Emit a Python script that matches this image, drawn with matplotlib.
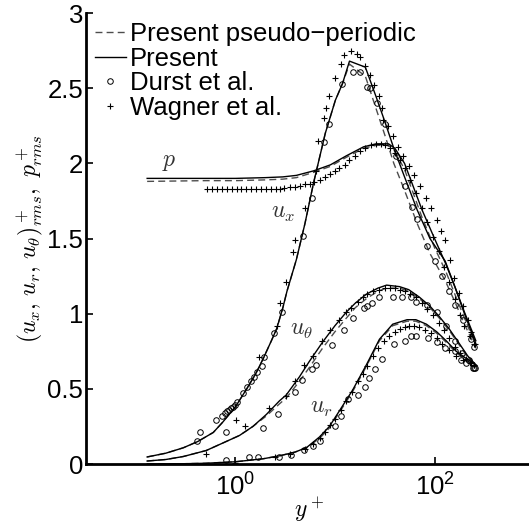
import numpy as np
import matplotlib
matplotlib.use("Agg")
import matplotlib.pyplot as plt

plt.rcParams['font.family'] = ['Liberation Sans', 'DejaVu Sans']
plt.rcParams['mathtext.fontset'] = 'cm'

# --- Present (solid) ---
ux_y = [0.13, 0.2, 0.3, 0.42, 0.6, 0.75, 1.0, 1.3, 1.6, 1.9, 2.3, 2.6, 3.0, 3.3, 4.1, 5.0, 6.1,
        8.0, 10.1, 11.9, 14.0, 20.2, 26, 32, 39, 50, 67, 90, 128, 160, 200, 260]
ux_v = [0.047, 0.072, 0.108, 0.15, 0.21, 0.28, 0.38, 0.50, 0.60, 0.70, 0.82, 0.90, 1.04, 1.15, 1.36,
        1.60, 1.87, 2.20, 2.42, 2.53, 2.68, 2.64, 2.44, 2.27, 2.10, 1.91, 1.69, 1.50, 1.35, 1.18, 1.00, 0.80]
ux_pp_v = [0.047, 0.072, 0.108, 0.15, 0.21, 0.28, 0.38, 0.50, 0.60, 0.70, 0.82, 0.90, 1.04, 1.15, 1.36,
           1.60, 1.87, 2.20, 2.42, 2.53, 2.66, 2.58, 2.36, 2.18, 2.00, 1.82, 1.60, 1.40, 1.22, 1.08, 0.93, 0.77]

p_y = [0.13, 0.5, 1.0, 2.0, 3.0, 4.1, 6.1, 9.0, 13, 19.4, 26, 34.5, 40, 50, 75, 100, 130, 160, 200, 260]
p_v = [1.90, 1.90, 1.90, 1.905, 1.91, 1.92, 1.95, 1.99, 2.05, 2.11, 2.13, 2.13, 2.10, 2.00, 1.69,
       1.50, 1.33, 1.18, 1.01, 0.82]
p_pp_v = [1.88, 1.885, 1.885, 1.89, 1.895, 1.905, 1.94, 1.98, 2.04, 2.10, 2.12, 2.12, 2.08, 1.96, 1.64,
          1.44, 1.28, 1.13, 0.97, 0.79]

ut_y = [0.13, 0.2, 0.3, 0.51, 0.75, 1.1, 1.5, 2.05, 2.77, 3.25, 4.4, 5.5, 7.5, 10, 13, 16, 20.7, 27,
        33, 44.5, 55, 70.5, 90, 112, 140, 178, 215, 260]
ut_v = [0.02, 0.03, 0.05, 0.09, 0.14, 0.19, 0.25, 0.33, 0.42, 0.46, 0.58, 0.68, 0.81, 0.92, 1.01, 1.07,
        1.13, 1.17, 1.19, 1.18, 1.16, 1.11, 1.05, 0.98, 0.90, 0.80, 0.72, 0.66]
ut_pp_v = [0.02, 0.03, 0.05, 0.09, 0.14, 0.19, 0.25, 0.32, 0.40, 0.44, 0.55, 0.64, 0.77, 0.88, 0.97, 1.04,
           1.10, 1.15, 1.17, 1.17, 1.15, 1.10, 1.04, 0.97, 0.89, 0.79, 0.71, 0.65]

ur_y = [0.13, 0.3, 0.5, 1.0, 1.9, 2.8, 4.0, 5.2, 7.0, 8.8, 11, 15, 20.7, 28, 38, 53, 65, 83, 105,
        131, 165, 210, 260]
ur_v = [0.0005, 0.002, 0.005, 0.015, 0.035, 0.055, 0.08, 0.11, 0.18, 0.25, 0.35, 0.49, 0.66, 0.83,
        0.93, 0.96, 0.96, 0.93, 0.88, 0.82, 0.75, 0.70, 0.66]
ur_pp_v = [0.0005, 0.002, 0.005, 0.015, 0.035, 0.055, 0.08, 0.11, 0.17, 0.24, 0.34, 0.48, 0.65, 0.82,
           0.92, 0.95, 0.95, 0.92, 0.87, 0.81, 0.74, 0.69, 0.65]

# --- Durst et al. (circles) ---
d_ux_y = [0.41, 0.44, 0.64, 0.74, 0.78, 0.82, 0.86, 0.9, 0.95, 1.0, 1.05, 1.18, 1.32, 1.45, 1.55, 1.66,
          1.83, 1.96, 2.47, 2.97, 4.8, 5.95, 7.8, 8.8, 11.9, 15.3, 18, 21.2, 22.7, 26.7, 32, 41.5,
          50, 60, 67, 85, 100, 120, 140, 162, 195, 235, 250]
d_ux_v = [0.15, 0.21, 0.29, 0.32, 0.34, 0.35, 0.36, 0.37, 0.38, 0.39, 0.41, 0.47, 0.51, 0.55, 0.58, 0.61,
          0.65, 0.71, 0.87, 1.01, 1.52, 1.77, 2.14, 2.26, 2.53, 2.61, 2.61, 2.51, 2.50, 2.40, 2.26, 2.05,
          1.85, 1.71, 1.63, 1.45, 1.35, 1.25, 1.15, 1.06, 0.96, 0.83, 0.78]
d_ut_y = [0.81, 1.91, 2.7, 4.0, 4.7, 5.9, 6.5, 9.4, 12.4, 15.3, 19.8, 21, 23.8, 28, 38, 47.5, 58.5,
          65.5, 85, 107, 130, 160, 190, 220, 250]
d_ut_v = [0.21, 0.24, 0.33, 0.48, 0.56, 0.63, 0.66, 0.79, 0.89, 0.97, 1.04, 1.05, 1.07, 1.11, 1.11,
          1.11, 1.11, 1.08, 1.06, 1.01, 0.92, 0.82, 0.74, 0.69, 0.64]
d_ur_y = [0.81, 1.38, 1.7, 2.77, 3.6, 4.9, 6.0, 7.1, 10.1, 11.5, 13.6, 17.2, 20.2, 22.2, 25.5, 29.4,
          38.8, 51, 58.5, 65.5, 87, 105, 128, 162, 186, 208, 245, 255]
d_ur_v = [0.03, 0.05, 0.05, 0.05, 0.06, 0.09, 0.12, 0.15, 0.25, 0.32, 0.43, 0.46, 0.51, 0.57, 0.63, 0.70,
          0.80, 0.82, 0.85, 0.85, 0.84, 0.81, 0.77, 0.75, 0.69, 0.67, 0.64, 0.64]

# --- Wagner et al. (plus) ---
w_p_y = [0.52, 0.58, 0.65, 0.73, 0.82, 0.92, 1.03, 1.15, 1.29, 1.45, 1.62, 1.82, 2.04, 2.28, 2.55,
         2.8, 3.1, 3.5, 4.0, 4.5, 5.0, 5.6, 6.2, 7, 8, 9, 10, 11, 12.5, 14, 16, 18, 20, 23, 26, 29,
         32, 36, 40, 45, 50, 57, 65, 75, 85, 97, 110, 125, 140, 160, 180, 200, 225, 250]
w_p_v = [1.83, 1.83, 1.83, 1.83, 1.83, 1.83, 1.83, 1.83, 1.83, 1.83, 1.83, 1.83, 1.83, 1.83, 1.83,
         1.83, 1.835, 1.84, 1.845, 1.85, 1.86, 1.865, 1.875, 1.89, 1.91, 1.93, 1.95, 1.97, 1.99, 2.02,
         2.05, 2.08, 2.10, 2.12, 2.13, 2.13, 2.12, 2.10, 2.07, 2.02, 1.97, 1.89, 1.80, 1.70, 1.61, 1.51,
         1.42, 1.31, 1.21, 1.10, 0.99, 0.92, 0.85, 0.80]
w_ux_y = [1.74, 2.6, 2.8, 3.25, 3.8, 4.0, 5.0, 6.5, 6.7, 7.8, 8.2, 8.8, 9.9, 11.4, 12.2, 14.6, 16.8,
          18, 20.2, 22.7, 24.5, 27.4, 29.4, 30.7, 34, 38, 43, 48, 55, 62, 72, 82, 93, 105, 117, 128,
          142, 158, 175, 195, 215, 235, 255]
w_ux_v = [0.71, 0.92, 1.07, 1.21, 1.41, 1.49, 1.70, 1.95, 2.15, 2.30, 2.37, 2.45, 2.57, 2.66, 2.72,
          2.75, 2.73, 2.71, 2.65, 2.59, 2.52, 2.45, 2.37, 2.29, 2.25, 2.18, 2.11, 2.05, 1.98, 1.92, 1.85,
          1.77, 1.70, 1.62, 1.55, 1.49, 1.36, 1.24, 1.14, 1.05, 0.96, 0.88, 0.80]
w_ut_y = [0.51, 1.02, 1.26, 2.2, 3.25, 4.0, 4.9, 6, 7.5, 9, 11, 13, 14.6, 17, 19, 21, 24, 28, 32, 36,
          40, 45, 50, 57, 65, 75, 85, 97, 110, 125, 140, 160, 180, 205, 230, 250]
w_ut_v = [0.07, 0.29, 0.25, 0.37, 0.45, 0.55, 0.66, 0.72, 0.82, 0.89, 0.96, 1.01, 1.04, 1.08, 1.11,
          1.13, 1.15, 1.16, 1.17, 1.17, 1.17, 1.16, 1.15, 1.13, 1.11, 1.07, 1.03, 0.99, 0.94, 0.89, 0.84,
          0.78, 0.74, 0.70, 0.67, 0.66]
w_ur_y = [1.0, 2.5, 3.5, 5, 6, 7, 8, 9, 10, 11.5, 13, 15, 17, 19, 21, 24, 27, 31, 35, 40, 45, 50,
          56, 62, 70, 80, 92, 105, 120, 140, 165, 195, 225, 250]
w_ur_v = [0.01, 0.05, 0.07, 0.10, 0.13, 0.17, 0.21, 0.26, 0.30, 0.36, 0.42, 0.48, 0.55, 0.60, 0.65,
          0.72, 0.77, 0.82, 0.85, 0.88, 0.90, 0.91, 0.92, 0.92, 0.91, 0.89, 0.87, 0.84, 0.80, 0.76,
          0.72, 0.69, 0.67, 0.66]

fig = plt.figure(figsize=(5.29, 5.27), dpi=100)
ax = fig.add_axes([0.1626, 0.1195, 0.847, 0.8558])

dash = dict(color='0.3', lw=1.0, ls=(0, (5, 3)))
solid = dict(color='k', lw=1.0)
circ = dict(ls='none', marker='o', ms=4, mfc='none', mec='k', mew=0.7)
plus = dict(ls='none', marker='+', ms=5, mec='k', mew=0.8)

ax.plot(ux_y, ux_pp_v, label='Present pseudo\u2212periodic', **dash)
ax.plot(p_y, p_pp_v, **dash)
ax.plot(ut_y, ut_pp_v, **dash)
ax.plot(ur_y, ur_pp_v, **dash)
ax.plot(ux_y, ux_v, label='Present', **solid)
ax.plot(p_y, p_v, **solid)
ax.plot(ut_y, ut_v, **solid)
ax.plot(ur_y, ur_v, **solid)
ax.plot(d_ux_y, d_ux_v, label='Durst et al.', **circ)
ax.plot(d_ut_y, d_ut_v, **circ)
ax.plot(d_ur_y, d_ur_v, **circ)
ax.plot(w_ux_y, w_ux_v, label='Wagner et al.', **plus)
ax.plot(w_p_y, w_p_v, **plus)
ax.plot(w_ut_y, w_ut_v, **plus)
ax.plot(w_ur_y, w_ur_v, **plus)

ax.set_xscale('log')
ax.set_xlim(10 ** -1.5, 1e3)
ax.set_ylim(0, 3)
ax.set_xticks([1, 100])
ax.set_xticklabels(['$\\mathregular{10^0}$', '$\\mathregular{10^2}$'])
ax.xaxis.set_minor_locator(matplotlib.ticker.NullLocator())
ax.set_yticks([0, 0.5, 1, 1.5, 2, 2.5, 3])
ax.set_yticklabels(['0', '0.5', '1', '1.5', '2', '2.5', '3'])
ax.tick_params(direction='in', length=5, width=1.2, labelsize=18.5)
ax.tick_params(axis='x', pad=7)
ax.tick_params(axis='y', pad=2)
for s in ['top', 'right']:
    ax.spines[s].set_visible(False)
for s in ['left', 'bottom']:
    ax.spines[s].set_linewidth(2)

ax.text(0.217, 2.01, '$p$', fontsize=17, ha='center', va='center', color='0.2')
ax.text(3.04, 1.67, '$u_x$', fontsize=17, ha='center', va='center', color='0.2')
ax.text(4.6, 0.89, '$u_\\theta$', fontsize=17, ha='center', va='center', color='0.2')
ax.text(7.3, 0.37, '$u_r$', fontsize=17, ha='center', va='center', color='0.2')

ax.set_ylabel('$(u_x,\\, u_r,\\, u_\\theta)^+_{rms},\\ p^+_{rms}$', fontsize=17, labelpad=2)
ax.set_xlabel('$y^+$', fontsize=17)
ax.xaxis.set_label_coords(0.497, -0.07)

ax.legend(loc='upper left', fontsize=18.5, frameon=False, handlelength=1.2, handletextpad=0.15,
          labelspacing=0.02, borderaxespad=0.1, borderpad=0.25, markerscale=1.0)

fig.savefig('out.png', dpi=100)
